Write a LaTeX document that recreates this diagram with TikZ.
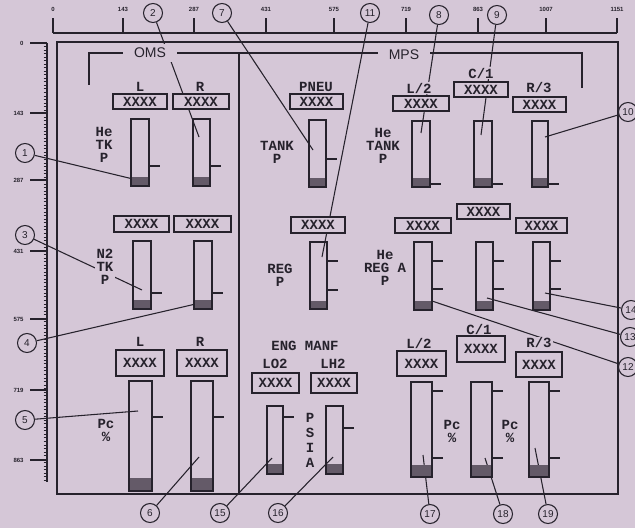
\documentclass[tikz,border=0pt]{standalone}
\usepackage{fontspec}
\setsansfont{Liberation Sans}
\setmonofont{Liberation Mono}
\usetikzlibrary{fit,calc}
\definecolor{paper}{RGB}{213,199,215}
\definecolor{inkc}{RGB}{38,34,44}
\definecolor{shdc}{RGB}{100,90,104}
\pgfdeclarelayer{sheet}
\pgfdeclarelayer{leads}
\pgfsetlayers{sheet,leads,main}
\newcommand{\lblfont}{\ttfamily\bfseries\fontsize{10.5}{9.75}\selectfont}
\newcommand{\rulfont}{\sffamily\bfseries\fontsize{4.5}{5}\selectfont}
\tikzset{bar/.style={draw=inkc, line width=1.1pt, inner sep=0pt},
  valbox/.style={draw=inkc, fill=paper, line width=1.1pt, inner sep=0pt, font=\lblfont, text=inkc},
  lbl/.style={fill=paper, inner sep=1pt, align=center, font=\lblfont, text=inkc},
  grp/.style={fill=paper, inner xsep=8pt, inner ysep=3pt, font=\sffamily\fontsize{10.5}{12}\selectfont, text=inkc},
  callout/.style={circle, draw=inkc, fill=paper, line width=0.8pt, minimum size=14.25pt, inner sep=0pt,
    font=\sffamily\fontsize{7.5}{8}\selectfont, text=inkc},
  lead/.style={draw=inkc, line width=0.8pt},
  tck/.style={draw=inkc, line width=1.4pt},
  rul/.style={draw=inkc, line width=1pt},
  frame/.style={draw=inkc, line width=1.5pt}}
% gauge column: name, left, top, right, bottom, top of shaded part
\newcommand{\gauge}[6]{\fill[shdc] (#2,#6) rectangle (#4,#5);
  \node[bar, fit={(#2,#3) (#4,#5)}] (#1) {};}
\newcommand{\gtick}[2]{\draw[tck] (#1.east |- 0,#2) -- ++(10,0);}
% readout box: name, left, top, right, bottom
\newcommand{\xbox}[5]{\node[valbox, minimum width={(#4-#2)*0.75pt}, minimum height={(#5-#3)*0.75pt}]
  (#1) at ({(#2+#4)/2},{(#3+#5)/2}) {XXXX};}

\begin{document}
\begin{tikzpicture}[x=0.75pt, y=-0.75pt]
  \begin{pgfonlayer}{sheet}
    \fill[paper] (0,0) rectangle (635,528);
  \end{pgfonlayer}
  \useasboundingbox (0,0) rectangle (635,528);
  \clip (0,0) rectangle (635,528);
  % top ruler
  \draw[rul] (53,33) -- (617,33);
  \foreach \v/\x in {0/53,143/123,287/194,431/266,575/334,719/406,863/478,1007/546,1151/617}
    \draw[rul] (\x,33) -- (\x,18) node[above=1pt, font=\rulfont, text=inkc] (hx\v) {\v};
  % left ruler
  \draw[rul] (47,43) -- (47,482);
  \foreach \i in {0,...,124}
    \draw[inkc, line width=0.5pt] (43.5,43+3.525*\i) -- (47,43+3.525*\i);
  \foreach \v/\y in {0/43,143/113,287/180,431/251,575/319,719/390,863/460}
    \draw[rul] (47,\y) -- (30,\y) node[left=1pt, font=\rulfont, text=inkc] (vy\v) {\v};
  % panel frame
  \draw[frame] (57,42) rectangle (618,494);
  \draw[frame] (239,53) -- (239,494);
  \draw[inkc, line width=2.2pt] (89,85) -- (89,53) -- (582,53) -- (582,88);
  \node[grp] (oms) at (150,53) {OMS};
  \node[grp] (mps) at (404,55) {MPS};

  % OMS: He tank
  \node[lbl] (lL1) at (140,87) {L};
  \node[lbl] (lR1) at (200,87) {R};
  \xbox{xL1}{113}{94}{167}{109}
  \xbox{xR1}{173}{94}{229}{109}
  \gauge{gL1}{131}{119}{149}{186}{177}
  \gauge{gR1}{193}{119}{210}{186}{177}
  \gtick{gL1}{166} \gtick{gR1}{166}
  \node[lbl] (heTK) at (104,145) {He\\TK\\P};
  % OMS: N2 tank
  \xbox{xL2}{114}{216}{169}{232}
  \xbox{xR2}{174}{216}{231}{232}
  \gauge{gL2}{133}{241}{151}{309}{300}
  \gauge{gR2}{194}{241}{212}{309}{300}
  \gtick{gL2}{293} \gtick{gR2}{293}
  \node[lbl] (n2TK) at (105,267) {N2\\TK\\P};
  % OMS: Pc
  \node[lbl] (lL3) at (140,342) {L};
  \node[lbl] (lR3) at (200,342) {R};
  \xbox{xL3}{116}{350}{164}{376}
  \xbox{xR3}{177}{350}{227}{376}
  \gauge{gL3}{129}{381}{152}{491}{478}
  \gauge{gR3}{191}{381}{213}{491}{478}
  \gtick{gL3}{417} \gtick{gR3}{417}
  \node[lbl] (pcO) at (106,430) {Pc\\\%};

  % pneumatics
  \node[lbl] (pneu) at (316,87) {PNEU};
  \xbox{xPn}{290}{94}{343}{109}
  \gauge{gPn}{309}{120}{326}{187}{178}
  \gtick{gPn}{159}
  \node[lbl] (tankP) at (277,152) {TANK\\P};
  \xbox{xRg}{291}{217}{345}{233}
  \gauge{gRg}{310}{242}{327}{309}{301}
  \gtick{gRg}{261} \gtick{gRg}{290}
  \node[lbl] (regP) at (280,275) {REG\\P};
  % engine manifold
  \node[lbl] (engm) at (305,346) {ENG MANF};
  \node[lbl] (lo2) at (275,364) {LO2};
  \node[lbl] (lh2) at (333,364) {LH2};
  \xbox{xLo}{252}{373}{299}{393}
  \xbox{xLh}{311}{373}{357}{393}
  \gauge{gLo}{267}{406}{283}{474}{464}
  \gauge{gLh}{326}{406}{343}{474}{464}
  \gtick{gLo}{417} \gtick{gLh}{428}
  \node[lbl, font=\ttfamily\bfseries\fontsize{10.5}{11.25}\selectfont] (psia) at (310,440) {P\\S\\I\\A};

  % MPS: He tank
  \node[lbl] (m2a) at (419,88) {L/2};
  \node[lbl] (m1a) at (481,73) {C/1};
  \node[lbl] (m3a) at (539,88) {R/3};
  \xbox{xM2a}{393}{96}{449}{111}
  \xbox{xM1a}{454}{82}{508}{97}
  \xbox{xM3a}{513}{97}{566}{112}
  \gauge{gM2a}{412}{121}{430}{187}{178}
  \gauge{gM1a}{474}{121}{492}{187}{178}
  \gauge{gM3a}{532}{121}{548}{187}{178}
  \gtick{gM2a}{184} \gtick{gM1a}{184} \gtick{gM3a}{184}
  \node[lbl] (heTank) at (383,146) {He\\TANK\\P};
  % MPS: He reg
  \xbox{xM2b}{395}{218}{451}{233}
  \xbox{xM1b}{457}{204}{510}{219}
  \xbox{xM3b}{516}{218}{567}{233}
  \gauge{gM2b}{414}{242}{432}{310}{301}
  \gauge{gM1b}{476}{242}{493}{310}{301}
  \gauge{gM3b}{533}{242}{550}{310}{301}
  \foreach \g in {gM2b,gM1b,gM3b} {\gtick{\g}{261} \gtick{\g}{289}}
  \node[lbl] (heReg) at (385,268) {He\\REG A\\P};
  % MPS: Pc
  \node[lbl] (m2c) at (419,343) {L/2};
  \node[lbl] (m1c) at (479,329) {C/1};
  \node[lbl] (m3c) at (539,343) {R/3};
  \xbox{xM2c}{397}{351}{446}{376}
  \xbox{xM1c}{457}{336}{505}{362}
  \xbox{xM3c}{516}{352}{562}{377}
  \gauge{gM2c}{411}{382}{432}{477}{465}
  \gauge{gM1c}{471}{382}{492}{477}{465}
  \gauge{gM3c}{529}{382}{549}{477}{465}
  \foreach \g in {gM2c,gM1c,gM3c} {\gtick{\g}{391} \gtick{\g}{458}}
  \node[lbl] (pcM1) at (452,431) {Pc\\\%};
  \node[lbl] (pcM2) at (510,431) {Pc\\\%};

  % callouts
  \foreach \n/\cx/\cy/\tx/\ty in {1/25/153/133/179, 2/153/13/199/137, 3/25/235/142/290,
      4/27/343/200/303, 5/25/420/138/411, 6/150/513/199/457, 7/222/13/313/150,
      8/439/15/421/133, 9/497/15/481/135, 10/628/112/545/137, 11/370/13/322/257,
      12/628/367/432/301, 13/630/337/487/298, 14/631/310/545/293, 15/220/513/272/458,
      16/278/513/333/457, 17/430/514/423/455, 18/503/514/485/458, 19/548/514/535/448} {
    \node[callout] (c\n) at (\cx,\cy) {\n};
    \coordinate (t\n) at (\tx,\ty);
    \begin{pgfonlayer}{leads}
      \draw[lead] (c\n) -- (t\n);
    \end{pgfonlayer}
  }
\end{tikzpicture}
\end{document}
